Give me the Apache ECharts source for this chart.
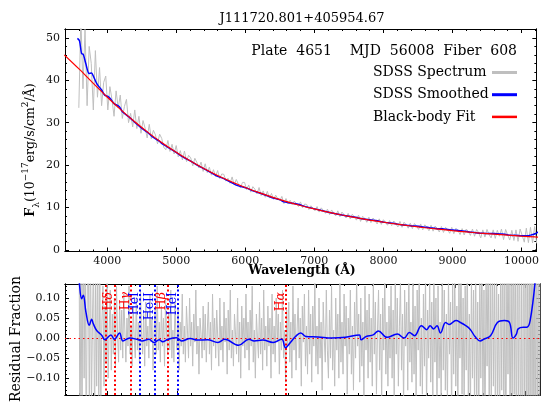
<!DOCTYPE html>
<html><head><meta charset="utf-8">
<script src="https://cdn.jsdelivr.net/npm/echarts@6/dist/echarts.min.js"></script>
<style>html,body{margin:0;padding:0;background:#fff}#c{width:542px;height:402px}</style>
</head><body><div id="c"></div>
<script>
const titleText = 'J111720.801+405954.67';
const infoText = 'Plate  4651    MJD  56008  Fiber  608';
const legendNames = ['SDSS Spectrum', 'SDSS Smoothed', 'Black-body Fit'];
const legendColors = ['#bfbfbf', '#0000ff', '#ff0000'];

// observed spectrum (flux), sampled every 30 A from 3590 A
const specStart = 3590, specStep = 30;
const specFlux = [
33.5,55,38,52,34,48,44,33,47,36,
43,34,39.5,41,33,38.5,35.5,31.5,37.5,33.5,
36.5,31,33.8,35.5,30,32.2,29,33,28.6,31.5,
27.5,30.5,28.7,26.4,29.6,26.2,28.2,27.1,25.0,27.3,
26.3,24.2,23.6,25.8,23.2,24.9,22.6,24.6,21.9,23.4,
21.2,23.3,20.8,22.3,21.7,19.8,21.6,20.6,19.3,20.7,
18.5,20.3,18.2,19.5,17.6,18.9,17.3,18.7,16.8,17.9,
17.8,16.2,16.9,15.7,17.2,15.3,16.6,15.5,14.6,15.9,
15.9,14.2,15.3,13.6,14.9,14.3,13.2,14.7,12.8,13.9,
12.4,13.8,12.2,13.3,11.9,12.9,12.1,11.6,12.6,10.9,
12.1,10.8,11.7,10.6,11.5,10.9,10.2,11.3,9.9,10.8,
10.7,9.5,10.4,9.8,9.2,10.2,8.9,9.9,9.3,8.6,
9.6,8.3,9.4,8.7,8.0,9.2,7.8,8.9,8.3,7.5,
8.6,7.3,8.4,7.7,7.0,8.2,6.7,7.9,7.4,6.5,
7.7,6.4,7.5,6.9,6.1,7.3,6.0,7.1,6.5,5.8,
6.9,5.7,6.8,6.2,5.4,6.7,5.3,6.5,5.9,5.1,
6.3,5.0,6.2,5.6,4.8,6.1,4.7,5.9,5.3,4.5,
5.8,4.4,5.6,5.0,4.2,5.5,4.1,5.3,4.8,3.9,
5.3,3.8,5.1,4.6,3.6,5.0,3.5,4.9,4.3,3.4,
4.9,3.2,4.8,4.0,2.8,4.7,3.0,4.8,3.6,2.8,
4.7,2.7,4.6,3.2,4.9,2.4,4.8,3.5,2.3,4.6,
2.2,4.7,2.0,4.9,3.4,1.8,5.1,1.7,5.3,1.6,
5.5,1.5];

// residual fraction, sampled every 15 A from 3590 A
const resStart = 3590, resStep = 15;
const residual = [
0.35,-0.3,0.2,-0.25,0.32,-0.1,0.28,-0.3,0.12,0.25,-0.22,0.3,-0.18,0.05,0.2,-0.24,0.16,-0.12,0.22,-0.2,
0.15,-0.16,0.04,0.13,-0.12,0.08,-0.06,0.14,-0.1,0.02,0.12,-0.08,0.06,-0.04,0.1,-0.07,0.13,0.01,-0.06,0.09,
-0.03,0.07,-0.05,0.11,0.02,-0.06,0.05,-0.02,0.13,-0.04,0.03,-0.07,0.08,0.0,-0.05,0.1,-0.03,0.04,-0.06,0.12,
0.01,-0.04,0.06,-0.07,0.09,-0.02,0.03,-0.05,0.11,-0.01,0.05,-0.08,0.02,0.07,-0.04,0.13,-0.03,0.04,-0.06,0.08,
-0.02,0.05,-0.07,0.1,0.01,-0.04,0.06,-0.03,0.12,-0.05,0.02,-0.06,0.09,0.0,-0.03,0.07,-0.08,0.04,-0.02,0.11,
-0.04,0.03,-0.06,0.08,0.02,-0.05,0.1,-0.02,0.04,-0.07,0.06,-0.01,0.12,-0.04,0.03,-0.09,0.05,0.01,-0.05,0.08,
-0.03,0.06,-0.06,0.02,0.09,-0.04,0.04,-0.08,0.11,-0.02,0.05,-0.05,0.07,0.0,-0.07,0.1,-0.03,0.03,-0.06,0.09,
-0.01,0.05,-0.09,0.07,-0.03,0.12,-0.05,0.02,-0.07,0.06,0.01,-0.04,0.1,-0.06,0.04,-0.1,0.08,-0.02,0.05,-0.05,
0.11,-0.03,0.04,-0.08,0.07,-0.02,0.13,-0.06,0.02,-0.1,0.06,0.0,-0.05,0.09,-0.04,0.05,-0.08,0.12,-0.03,0.03,
-0.07,0.08,-0.02,0.05,-0.1,0.11,-0.04,0.03,-0.06,0.1,-0.01,0.06,-0.09,0.04,-0.03,0.12,-0.05,0.02,-0.11,0.07,
-0.02,0.09,-0.06,0.04,-0.1,0.13,-0.03,0.06,-0.08,0.02,0.1,-0.05,0.05,-0.12,0.08,-0.01,0.11,-0.07,0.03,-0.09,
0.12,-0.04,0.06,-0.11,0.08,-0.02,0.14,-0.07,0.03,-0.09,0.1,-0.05,0.04,-0.13,0.09,0.0,-0.06,0.12,-0.03,-0.1,
0.07,-0.05,0.13,-0.08,0.02,-0.12,0.1,-0.03,0.06,-0.1,0.15,-0.06,0.04,-0.09,0.11,-0.02,0.08,-0.14,0.05,-0.04,
0.12,-0.09,0.03,-0.13,0.09,-0.05,0.15,-0.02,0.06,-0.11,0.1,-0.07,0.04,-0.15,0.13,-0.03,0.07,-0.1,0.11,-0.06,
0.05,-0.12,0.14,-0.04,0.09,-0.14,0.02,0.12,-0.08,0.06,-0.16,0.1,-0.03,0.15,-0.09,0.04,-0.12,0.08,-0.05,0.13,
-0.1,0.07,-0.15,0.16,-0.04,0.1,-0.12,0.03,0.14,-0.08,0.06,-0.17,0.12,-0.02,0.09,-0.13,0.17,-0.06,0.04,-0.11,
0.15,-0.09,0.08,-0.16,0.12,-0.03,0.18,-0.12,0.05,-0.14,0.11,-0.07,0.16,-0.18,0.07,-0.05,0.14,-0.11,0.09,-0.15,
0.17,-0.06,0.1,-0.18,0.13,-0.1,0.04,-0.15,0.19,-0.08,0.12,-0.13,0.06,-0.17,0.15,-0.04,0.09,-0.2,0.14,-0.09,
0.18,-0.12,0.08,-0.19,0.15,-0.05,0.2,-0.14,0.1,-0.17,0.13,-0.08,0.21,-0.16,0.06,-0.2,0.16,-0.1,0.12,-0.18,
0.2,-0.15,0.09,-0.24,0.17,-0.1,0.23,-0.19,0.12,-0.26,0.19,-0.07,0.24,-0.21,0.14,-0.18,0.22,-0.12,0.17,-0.25,
0.24,-0.16,0.11,-0.27,0.21,-0.13,0.28,-0.22,0.15,-0.3,0.26,-0.09,0.24,-0.28,0.18,-0.2,0.3,-0.14,0.25,-0.32,
0.3,-0.22,0.35,-0.36,0.2,-0.4,0.42,-0.3,0.45,-0.44,0.38,-0.48,0.5,-0.4,0.55,-0.5,0.48,-0.55,0.6,-0.52,
0.6,-0.58,0.62];

// black-body fit
const fitWave = [3380,3600,3800,4000,4200,4400,4600,4800,5000,5200,5400,5600,5800,6000,6200,6400,6600,6800,7000,7200,7400,7600,7800,8000,8200,8400,8600,8800,9000,9200,9400,9600,9800,10000,10200,10400];
const fitFlux = [46.0,42.57,39.26,36.06,33.02,30.20,27.59,25.19,23.0,21.0,19.19,17.54,16.05,14.71,13.48,12.38,11.37,10.46,9.64,8.89,8.21,7.59,7.02,6.51,6.04,5.61,5.21,4.86,4.52,4.22,3.94,3.69,3.45,3.23,3.03,2.84];

// smoothed spectrum
const smoothWave = [3570,3600,3630,3655,3690,3740,3775,3800,3850,3920,3965,4010,4050,4100,4175,4225,4320,4420,4500,4600,4670,4750,4800,4870,5000,5070,5190,5290,5440,5590,5690,5880,6030,6110,6230,6380,6500,6560,6630,6700,6780,6850,7020,7220,7420,7620,7650,7720,7820,7890,8020,8160,8260,8340,8410,8510,8590,8640,8690,8740,8790,8860,8910,9010,9080,9130,9210,9280,9360,9410,9500,9600,9700,9780,9830,9880,9900,9980,10030,10070,10150,10200,10250];
const smoothFlux = [49.9,49.3,46.3,46.1,44.0,41.6,41.7,41.0,39.2,37.7,36.5,36.2,35.6,34.5,33.8,32.5,31.3,29.8,28.7,27.5,26.5,25.7,25.0,24.3,23.0,22.15,21.1,20.1,18.8,17.4,16.8,15.2,14.5,13.9,13.3,12.35,11.84,11.3,11.1,10.95,10.7,10.3,9.6,8.8,8.17,7.6,7.42,7.28,7.02,6.9,6.47,6.2,5.9,5.82,5.62,5.56,5.34,5.3,5.17,5.11,4.94,4.94,4.83,4.7,4.57,4.47,4.3,4.12,3.97,3.92,3.84,3.83,3.73,3.61,3.42,3.4,3.42,3.34,3.29,3.3,3.54,3.8,4.3];

// smoothed residual fraction
const smoothResWave = [3570,3595,3630,3653,3691,3739,3773,3796,3845,3917,3964,4050,4099,4174,4223,4322,4421,4496,4595,4669,4744,4793,4868,4992,5066,5190,5289,5438,5587,5686,5884,6033,6107,6231,6380,6504,6558,6628,6702,6776,6851,7024,7222,7421,7619,7644,7718,7818,7892,8016,8165,8264,8338,8412,8512,8586,8636,8686,8735,8785,8859,8909,9008,9082,9132,9207,9281,9355,9405,9504,9603,9703,9777,9826,9876,9901,9975,10025,10074,10149,10180];
const smoothResVal = [0.2,0.14,0.098,0.107,0.065,0.032,0.047,0.036,0.019,0.007,-0.004,0.008,-0.003,0.013,-0.007,0,-0.003,-0.007,-0.003,-0.011,-0.004,-0.009,-0.003,0.001,-0.007,-0.001,-0.005,-0.004,-0.011,-0.003,-0.018,-0.003,-0.007,-0.005,-0.011,-0.003,-0.024,-0.011,0.004,0.013,0.004,0.003,0,0.002,0.008,-0.004,0.004,0.008,0.018,0.002,0.01,0,0.014,0.006,0.031,0.021,0.031,0.023,0.031,0.013,0.039,0.034,0.044,0.038,0.033,0.023,0.004,-0.007,-0.003,0.006,0.039,0.044,0.039,0,0.01,0.023,0.027,0.027,0.044,0.149,0.25];

// line markers
const lineNames = ['', 'H|δ', 'H|γ', 'HeI', 'HeII', 'H|β', 'HeI', 'H|α'];
const lineWaves = [3970, 4102, 4340, 4471, 4686, 4861, 5016, 6563];
const lineColors = ['#ff0000','#ff0000','#ff0000','#0000ff','#0000ff','#ff0000','#0000ff','#ff0000'];

const xMajor = [4000,5000,6000,7000,8000,9000,10000];
const yMajorTop = [0,10,20,30,40,50];
const yMajorBot = [-0.10,-0.05,0.00,0.05,0.10];

const X_MIN = 3390, X_MAX = 10215;
const YT_MIN = -0.4, YT_MAX = 52.1;
const YB_MIN = -0.142, YB_MAX = 0.135;

const FONT = 'DejaVu Serif';
const xMinor = []; for (let v = 3400; v <= 10200; v += 200) if (v % 1000) xMinor.push(v);
const yMinorTop = []; for (let v = 2; v <= 52; v += 2) if (v % 10) yMinorTop.push(v);
const yMinorBot = []; for (let k = -14; k <= 13; k++) if (k % 5) yMinorBot.push(k / 100);

function axis(grid, pos, min, max, ticks, len, label) {
  const a = {
    type: 'value', gridIndex: grid, position: pos, min: min, max: max,
    axisLine: {show: true, onZero: false, lineStyle: {color: '#000', width: 1}},
    axisTick: {show: true, inside: true, length: len, customValues: ticks, lineStyle: {color: '#000', width: 1}},
    axisLabel: {show: false},
    splitLine: {show: false}
  };
  if (label) {
    a.axisLabel = Object.assign({show: true, customValues: ticks, fontFamily: FONT, fontSize: 11, color: '#111', margin: 5}, label);
  }
  return a;
}

const xAxes = [], yAxes = [];
[0, 1].forEach(g => {
  xAxes.push(axis(g, 'bottom', X_MIN, X_MAX, xMajor, 4, g === 0 ? {formatter: v => String(v), margin: 4} : null));
  xAxes.push(axis(g, 'bottom', X_MIN, X_MAX, xMinor, 2, null));
  xAxes.push(axis(g, 'top', X_MIN, X_MAX, xMajor, 4, null));
  xAxes.push(axis(g, 'top', X_MIN, X_MAX, xMinor, 2, null));
});
yAxes.push(axis(0, 'left', YT_MIN, YT_MAX, yMajorTop, 4, {formatter: v => String(v)}));
yAxes.push(axis(0, 'left', YT_MIN, YT_MAX, yMinorTop, 2, null));
yAxes.push(axis(0, 'right', YT_MIN, YT_MAX, yMajorTop, 4, null));
yAxes.push(axis(0, 'right', YT_MIN, YT_MAX, yMinorTop, 2, null));
yAxes.push(axis(1, 'left', YB_MIN, YB_MAX, yMajorBot, 4, {formatter: v => (v < -1e-9 ? '\u2212' : '') + Math.abs(v).toFixed(2)}));
yAxes.push(axis(1, 'left', YB_MIN, YB_MAX, yMinorBot, 2, null));
yAxes.push(axis(1, 'right', YB_MIN, YB_MAX, yMajorBot, 4, null));
yAxes.push(axis(1, 'right', YB_MIN, YB_MAX, yMinorBot, 2, null));

const specData = specFlux.map((v, i) => [specStart + i * specStep, v]);
const resData = residual.map((v, i) => [resStart + i * resStep, v]);
const fitData = fitWave.map((w, i) => [w, fitFlux[i]]);
const smoothData = smoothWave.map((w, i) => [w, smoothFlux[i]]);
const smoothResData = smoothResWave.map((w, i) => [w, smoothResVal[i]]);

const markData = lineWaves.map((w, i) => {
  const nm = lineNames[i];
  let fmt = '';
  if (nm.indexOf('|') >= 0) { const p = nm.split('|'); fmt = '{h|' + p[0] + '}{g|' + p[1] + '}'; }
  else if (nm) fmt = '{h|' + nm + '}';
  return {
    xAxis: w,
    lineStyle: {color: lineColors[i], type: [2, 2.5], width: 2},
    label: {
      show: !!nm, formatter: fmt, position: 'insideEndTop', distance: -1, padding: [0, 9, 0, 0],
      rich: {
        h: {fontFamily: FONT, fontSize: 12.5, color: lineColors[i]},
        g: {fontFamily: FONT, fontSize: 12.5, fontStyle: 'italic', color: lineColors[i]}
      }
    }
  };
});
markData.push({yAxis: 0, lineStyle: {color: '#ff0000', type: [1.5, 3], width: 1}, label: {show: false}});

const legendGraphics = [];
legendNames.forEach((nm, i) => {
  const y = 72.5 + i * 22.2;
  legendGraphics.push({type: 'text', x: 373, y: y, style: {text: nm, font: '14px "DejaVu Serif"', fill: '#000', textAlign: 'left', textVerticalAlign: 'middle'}});
  legendGraphics.push({type: 'line', shape: {x1: 492, y1: y, x2: 517, y2: y}, style: {stroke: legendColors[i], lineWidth: i === 2 ? 2.5 : 3}});
});

const option = {
  animation: false,
  backgroundColor: '#fff',
  grid: [
    {left: 65, right: 2, top: 29, height: 222.5},
    {left: 65, right: 2, top: 284, height: 111}
  ],
  xAxis: xAxes,
  yAxis: yAxes,
  graphic: [
    {type: 'text', x: 302, y: 18.5, style: {text: titleText, font: '13px "DejaVu Serif"', fill: '#000', textAlign: 'center', textVerticalAlign: 'middle'}},
    {type: 'text', x: 517, y: 51, style: {text: infoText, font: '14px "DejaVu Serif"', fill: '#000', textAlign: 'right', textVerticalAlign: 'middle'}},
    {type: 'text', x: 302, y: 271, style: {text: 'Wavelength (\u00c5)', font: 'bold 12.5px "DejaVu Serif"', fill: '#000', textAlign: 'center', textVerticalAlign: 'middle'}},
    {type: 'text', x: 16, y: 339, rotation: Math.PI / 2, style: {text: 'Residual Fraction', font: '14px "DejaVu Serif"', fill: '#000', textAlign: 'center', textVerticalAlign: 'middle'}},
    {type: 'text', x: 31, y: 150, rotation: Math.PI / 2, style: {
      text: '{b|F}{s|\u03bb}{n|(10}{p|\u221217}{n|erg/s/cm}{p|2}{n|/\u00c5)}',
      textAlign: 'center', textVerticalAlign: 'middle',
      rich: {
        n: {fontFamily: FONT, fontSize: 12.5, fill: '#000', lineHeight: 20, verticalAlign: 'middle'},
        b: {fontFamily: FONT, fontSize: 12.5, fontWeight: 'bold', fill: '#000', lineHeight: 20, verticalAlign: 'middle'},
        s: {fontFamily: FONT, fontSize: 9, fill: '#000', lineHeight: 20, verticalAlign: 'bottom'},
        p: {fontFamily: FONT, fontSize: 9, fill: '#000', lineHeight: 20, verticalAlign: 'top'}
      }
    }}
  ].concat(legendGraphics),
  series: [
    {name: 'SDSS Spectrum', type: 'line', xAxisIndex: 0, yAxisIndex: 0, data: specData, showSymbol: false, symbol: 'none', color: '#bfbfbf', lineStyle: {color: '#bfbfbf', width: 1}, z: 2},
    {name: 'SDSS Smoothed', type: 'line', xAxisIndex: 0, yAxisIndex: 0, data: smoothData, showSymbol: false, symbol: 'none', smooth: 0.3, color: '#0000ff', lineStyle: {color: '#0000ff', width: 1.5}, z: 3},
    {name: 'Black-body Fit', type: 'line', xAxisIndex: 0, yAxisIndex: 0, data: fitData, showSymbol: false, symbol: 'none', smooth: 0.3, color: '#ff0000', lineStyle: {color: '#ff0000', width: 1.2}, z: 4},
    {name: 'Residual', type: 'line', xAxisIndex: 4, yAxisIndex: 4, data: resData, showSymbol: false, symbol: 'none', color: '#bfbfbf', lineStyle: {color: '#bfbfbf', width: 1}, z: 2,
      markLine: {silent: true, symbol: ['none', 'none'], animation: false, data: markData}},
    {name: 'Residual Smoothed', type: 'line', xAxisIndex: 4, yAxisIndex: 4, data: smoothResData, showSymbol: false, symbol: 'none', smooth: 0.4, color: '#0000ff', lineStyle: {color: '#0000ff', width: 1.5}, z: 5}
  ]
};
const chart = echarts.init(document.getElementById('c'), null, {renderer: 'canvas'});
chart.setOption(option);
</script></body></html>
